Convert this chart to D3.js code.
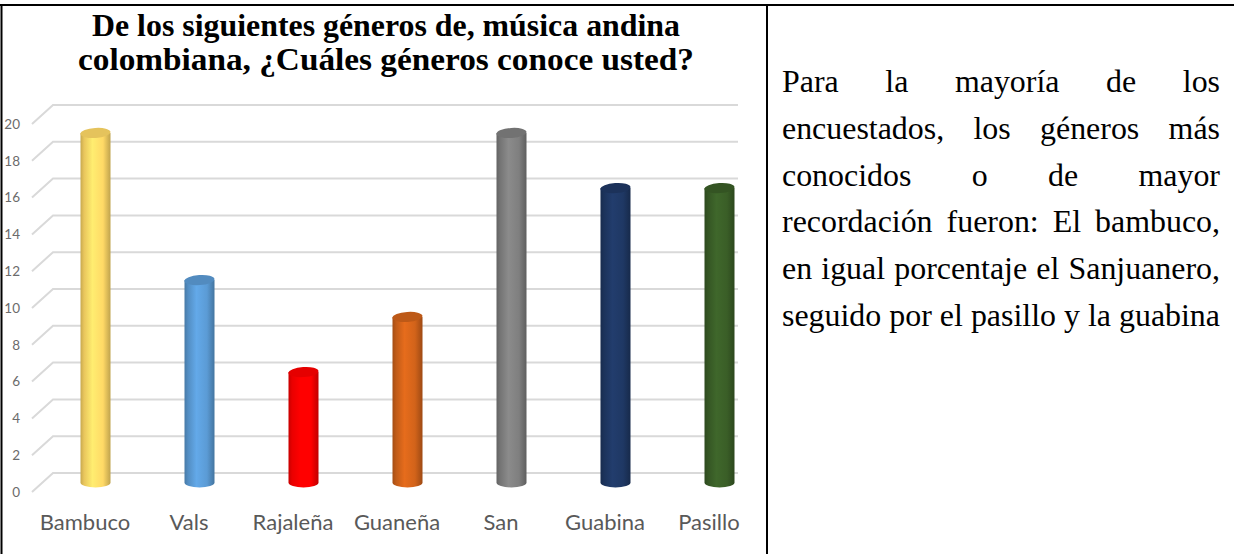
<!DOCTYPE html>
<html>
<head>
<meta charset="utf-8">
<script src="https://cdn.jsdelivr.net/npm/d3@7"></script>
<style>
  body { margin: 0; background: #fff; }
  svg { display: block; }
</style>
</head>
<body>
<svg id="page" width="1234" height="554"></svg>
<script>
var generos = ['Bambuco', 'Vals', 'Rajaleña', 'Guaneña', 'San', 'Guabina', 'Pasillo'];
var valores = [19, 11, 6, 9, 19, 16, 16];
var colores = ['#FFD966', '#5B9BD5', '#FF0000', '#D2631A', '#7F7F7F', '#1F3864', '#3A5E27'];
var yTicks = [0, 2, 4, 6, 8, 10, 12, 14, 16, 18, 20];
var tituloLineas = ['De los siguientes géneros de, música andina',
                    'colombiana, ¿Cuáles géneros conoce usted?'];
var textoLineas = ['Para la mayoría de los',
                   'encuestados, los géneros más',
                   'conocidos o de mayor',
                   'recordación fueron: El bambuco,',
                   'en igual porcentaje el Sanjuanero,',
                   'seguido por el pasillo y la guabina'];

var DEPTH_X = 21, DEPTH_Y = 19;   // 3d offset between front and back wall
var BAR_W = 30, CAP_RY = 5;
var TITLE_W = [588, 616];
var SERIF = '"Liberation Serif", "Times New Roman", serif';

var svg = d3.select('#page');

function textWidth(str, size, weight) {
  var t = svg.append('text').attr('x', -2000).attr('y', -2000)
    .style('font-family', SERIF).style('font-size', size + 'px')
    .style('font-weight', weight || 'normal').text(str);
  var w = t.node().getComputedTextLength();
  t.remove();
  return w;
}

// table borders
svg.append('line').attr('x1', 0).attr('x2', 1234).attr('y1', 5).attr('y2', 5)
  .attr('stroke', '#000').attr('stroke-width', 2);
svg.append('line').attr('x1', 1.5).attr('x2', 1.5).attr('y1', 5).attr('y2', 554)
  .attr('stroke', '#000').attr('stroke-width', 2);
svg.append('line').attr('x1', 767).attr('x2', 767).attr('y1', 5).attr('y2', 554)
  .attr('stroke', '#000').attr('stroke-width', 2);

// title, sized so the first line spans like the original
var titleSize = 27 * TITLE_W[0] / textWidth(tituloLineas[0], 27, 'bold');
svg.append('g').selectAll('text')
  .data(tituloLineas)
  .enter().append('text')
  .attr('x', 386)
  .attr('y', (d, i) => 36 + i * 34)
  .attr('text-anchor', 'middle')
  .attr('textLength', (d, i) => TITLE_W[i])
  .attr('lengthAdjust', 'spacingAndGlyphs')
  .style('font-family', SERIF)
  .style('font-weight', 'bold')
  .style('font-size', titleSize + 'px')
  .text(d => d);

// scales (front plane)
var x = d3.scaleBand().domain(generos).range([33, 761]);
var yFront = d3.scaleLinear().domain([0, 20]).range([492, 124]);

var defs = svg.append('defs');
colores.forEach(function(c, i) {
  var base = d3.color(c);
  var g = defs.append('linearGradient').attr('id', 'cyl' + i)
    .attr('x1', '0%').attr('x2', '100%').attr('y1', '0%').attr('y2', '0%');
  g.append('stop').attr('offset', '0%').attr('stop-color', base.darker(0.7));
  g.append('stop').attr('offset', '12%').attr('stop-color', base.darker(0.25));
  g.append('stop').attr('offset', '40%').attr('stop-color', base.brighter(0.25));
  g.append('stop').attr('offset', '75%').attr('stop-color', base);
  g.append('stop').attr('offset', '100%').attr('stop-color', base.darker(0.8));
});

// gridlines with perspective
var grid = svg.append('g');
grid.selectAll('path')
  .data(yTicks)
  .enter().append('path')
  .attr('d', d => 'M32,' + yFront(d) + 'L' + (32 + DEPTH_X) + ',' + (yFront(d) - DEPTH_Y) + 'L738,' + (yFront(d) - DEPTH_Y))
  .attr('fill', 'none')
  .attr('stroke', '#d9d9d9')
  .attr('stroke-width', 2);

// y axis labels
svg.append('g').selectAll('text')
  .data(yTicks)
  .enter().append('text')
  .attr('x', 20)
  .attr('y', d => yFront(d))
  .attr('dy', '0.35em')
  .attr('text-anchor', 'end')
  .style('font-family', 'Lato, "Open Sans", sans-serif')
  .style('font-size', '13.5px')
  .style('fill', '#6b6b6b')
  .text(d => d);

// cylinders sit half way back
var bars = svg.append('g').attr('transform', 'translate(' + (DEPTH_X / 2) + ',' + (-DEPTH_Y / 2) + ')');
var cyl = bars.selectAll('g')
  .data(generos)
  .enter().append('g');

cyl.append('path')
  .attr('d', function(d, i) {
    var cx = x(d) + x.bandwidth() / 2, l = cx - BAR_W / 2, r = cx + BAR_W / 2;
    var top = yFront(valores[i]), bot = yFront(0);
    return 'M' + l + ',' + top + 'L' + l + ',' + bot +
      'A' + (BAR_W / 2) + ',' + CAP_RY + ' 0 0 0 ' + r + ',' + bot +
      'L' + r + ',' + top + 'Z';
  })
  .attr('fill', (d, i) => 'url(#cyl' + i + ')');

cyl.append('ellipse')
  .attr('cx', d => x(d) + x.bandwidth() / 2)
  .attr('cy', (d, i) => yFront(valores[i]))
  .attr('rx', BAR_W / 2)
  .attr('ry', CAP_RY)
  .attr('transform', (d, i) => 'rotate(-4,' + (x(d) + x.bandwidth() / 2) + ',' + yFront(valores[i]) + ')')
  .attr('fill', (d, i) => d3.color(colores[i]).darker(0.3));

// x labels
svg.append('g').selectAll('text')
  .data(generos)
  .enter().append('text')
  .attr('x', d => x(d) + x.bandwidth() / 2)
  .attr('y', 530)
  .attr('text-anchor', 'middle')
  .style('font-family', 'Lato, "Open Sans", sans-serif')
  .style('font-size', '22px')
  .style('fill', '#595959')
  .text(d => d);

// justified paragraph on the right; the last line fills the column naturally
var TX0 = 782, TX1 = 1220;
var paraSize = 24 * (TX1 - TX0) / textWidth(textoLineas[textoLineas.length - 1], 24);
var para = svg.append('g')
  .style('font-family', SERIF)
  .style('font-size', paraSize + 'px')
  .style('fill', '#000');

textoLineas.forEach(function(line, li) {
  var words = line.split(' ');
  var ws = words.map(w => textWidth(w, paraSize));
  var gap = (TX1 - TX0 - d3.sum(ws)) / (words.length - 1);
  var cx = TX0;
  words.forEach(function(w, wi) {
    para.append('text')
      .attr('x', cx)
      .attr('y', 92 + li * 46.8)
      .text(w);
    cx += ws[wi] + gap;
  });
});
</script>
</body>
</html>
